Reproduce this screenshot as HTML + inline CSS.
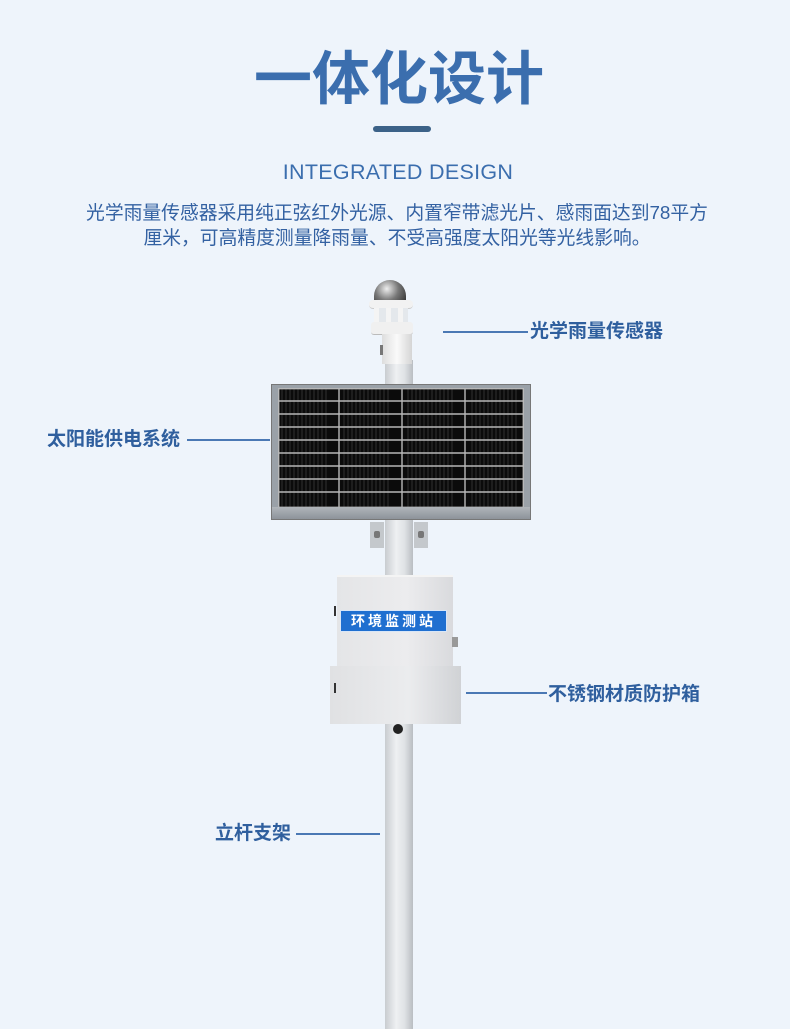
<!DOCTYPE html>
<html><head><meta charset="utf-8">
<style>
html,body{margin:0;padding:0}
body{width:790px;height:1029px;background:#eef4fb;position:relative;overflow:hidden;font-family:"Liberation Sans","Noto Sans CJK SC",sans-serif}
.a{position:absolute}
.t{left:0;width:790px;text-align:center;color:#3b6eae}
.lbl{position:absolute;color:#2f5f9e;font-weight:bold;font-size:19px;line-height:22px;white-space:nowrap}
.ln{position:absolute;height:2px;background:#4a78b4}
</style></head><body>
<div class="a t" style="top:45px;font-size:58px;font-weight:bold;line-height:70px;left:4px">一体化设计</div>
<div class="a" style="left:373px;top:126px;width:58px;height:6px;border-radius:3px;background:#3c6288"></div>
<div class="a t" style="top:158px;font-size:21.5px;line-height:28px;letter-spacing:0.3px;left:3px">INTEGRATED DESIGN</div>
<div class="a t" style="top:201px;font-size:18.8px;line-height:24.5px;color:#3361a2;left:2px">光学雨量传感器采用纯正弦红外光源、内置窄带滤光片、感雨面达到78平方<br>厘米，可高精度测量降雨量、不受高强度太阳光等光线影响。</div>

<!-- pole -->
<div class="a" style="left:385px;top:360px;width:28px;height:669px;background:linear-gradient(90deg,#c9ccd0,#eef0f2 40%,#dfe2e5 70%,#b9bdc2)"></div>
<!-- sensor -->
<div class="a" style="left:374px;top:280px;width:32px;height:22px;border-radius:16px 16px 2px 2px;background:radial-gradient(circle at 40% 40%,#eee,#777 50%,#333)"></div>
<div class="a" style="left:369px;top:300px;width:44px;height:8px;border-radius:4px;background:#f2f2f2;border-bottom:1px solid #ccc"></div>
<div class="a" style="left:374px;top:308px;width:34px;height:16px;background:repeating-linear-gradient(90deg,#f4f4f4 0 5px,#e4e8ec 5px 12px)"></div>
<div class="a" style="left:371px;top:322px;width:42px;height:12px;border-radius:3px;background:#f0f0f0;border-bottom:1px solid #bbb"></div>
<div class="a" style="left:382px;top:334px;width:30px;height:30px;background:linear-gradient(90deg,#ddd,#fafafa 50%,#d5d5d5)"></div>
<div class="a" style="left:380px;top:345px;width:3px;height:10px;background:#777"></div>
<!-- solar panel -->
<div class="a" style="left:271px;top:384px;width:260px;height:136px;background:#9aa1a8;border:1px solid #777;box-sizing:border-box"></div>
<svg class="a" style="left:278px;top:388px" width="246" height="120" viewBox="0 0 246 120">
<rect width="246" height="120" fill="#0b0b0b"/>
<g stroke="#3a3a3a" stroke-width="0.8">
<path d="M4 0V120M8 0V120M12 0V120M16 0V120M20 0V120M24 0V120M28 0V120M32 0V120M36 0V120M40 0V120M44 0V120M48 0V120M66 0V120M70 0V120M74 0V120M78 0V120M82 0V120M86 0V120M90 0V120M94 0V120M98 0V120M102 0V120M106 0V120M110 0V120M130 0V120M134 0V120M138 0V120M142 0V120M146 0V120M150 0V120M154 0V120M158 0V120M162 0V120M166 0V120M170 0V120M174 0V120M194 0V120M198 0V120M202 0V120M206 0V120M210 0V120M214 0V120M218 0V120M222 0V120M226 0V120M230 0V120M234 0V120M238 0V120"/>
</g>
<g stroke="#b8b8b8" stroke-width="1.4">
<path d="M0 0.7H246M0 13H246M0 26H246M0 39H246M0 52H246M0 65H246M0 78H246M0 91H246M0 104H246M0 119.3H246M0.7 0V120M61 0V120M124 0V120M187 0V120M245.3 0V120"/>
</g>
</svg>
<div class="a" style="left:272px;top:507px;width:258px;height:12px;background:linear-gradient(#b0b5ba,#8d939a)"></div>
<!-- brackets -->
<div class="a" style="left:370px;top:522px;width:14px;height:26px;background:#c4c8cc"></div>
<div class="a" style="left:414px;top:522px;width:14px;height:26px;background:#c4c8cc"></div>
<div class="a" style="left:374px;top:531px;width:6px;height:7px;background:#777;border-radius:2px"></div>
<div class="a" style="left:418px;top:531px;width:6px;height:7px;background:#777;border-radius:2px"></div>
<!-- box -->
<div class="a" style="left:337px;top:575px;width:116px;height:92px;background:linear-gradient(90deg,#e4e5e7,#ececee 60%,#d9dadd);border-top:2px solid #f4f4f4"></div>
<div class="a" style="left:330px;top:666px;width:131px;height:58px;background:linear-gradient(90deg,#e0e1e3,#ebecee 60%,#d0d2d5)"></div>
<div class="a" style="left:340px;top:610px;width:107px;height:22px;background:#1f6fd0;border:1px solid #d8e6f7;box-sizing:border-box;color:#fff;font-size:14px;font-weight:bold;text-align:center;line-height:20px;letter-spacing:3px">环境监测站</div>
<div class="a" style="left:334px;top:606px;width:2px;height:10px;background:#333"></div>
<div class="a" style="left:334px;top:683px;width:2px;height:10px;background:#333"></div>
<div class="a" style="left:452px;top:637px;width:6px;height:10px;background:#999"></div>
<div class="a" style="left:393px;top:724px;width:10px;height:10px;border-radius:5px;background:#222"></div>

<!-- labels -->
<div class="ln" style="left:443px;top:331px;width:85px"></div>
<div class="lbl" style="left:530px;top:321px">光学雨量传感器</div>
<div class="lbl" style="left:47px;top:429px">太阳能供电系统</div>
<div class="ln" style="left:187px;top:439px;width:83px"></div>
<div class="ln" style="left:466px;top:692px;width:81px"></div>
<div class="lbl" style="left:548px;top:684px">不锈钢材质防护箱</div>
<div class="lbl" style="left:215px;top:823px">立杆支架</div>
<div class="ln" style="left:296px;top:833px;width:84px"></div>
</body></html>
